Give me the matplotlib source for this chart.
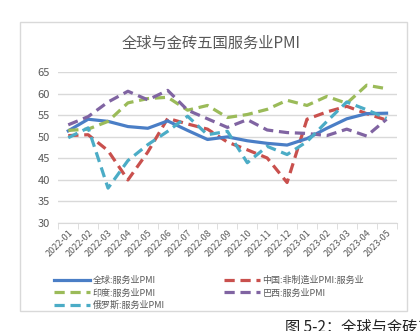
import numpy as np
import matplotlib
matplotlib.use("Agg")
import matplotlib.pyplot as plt
from matplotlib.patches import Rectangle
from matplotlib.lines import Line2D

plt.rcParams['font.family'] = ['Noto Sans CJK SC', 'DejaVu Sans']

months = ['2022-01', '2022-02', '2022-03', '2022-04', '2022-05', '2022-06',
          '2022-07', '2022-08', '2022-09', '2022-10', '2022-11', '2022-12',
          '2023-01', '2023-02', '2023-03', '2023-04', '2023-05']
global_pmi = [51.4, 54.1, 53.6, 52.4, 52.0, 53.7, 51.5, 49.4, 50.0, 49.1, 48.5, 48.1, 49.6, 52.0, 54.2, 55.4, 55.5]
china_pmi = [50.3, 50.5, 46.8, 40.0, 46.5, 54.3, 53.0, 51.8, 48.8, 47.0, 45.1, 39.4, 54.1, 55.8, 57.1, 55.4, 53.9]
india_pmi = [51.5, 51.8, 53.6, 57.9, 58.9, 59.2, 56.2, 57.3, 54.5, 55.2, 56.4, 58.5, 57.3, 59.4, 57.8, 62.0, 61.2]
brazil_pmi = [52.8, 54.7, 58.1, 60.6, 58.6, 60.8, 56.2, 54.2, 52.2, 54.0, 51.6, 51.0, 50.8, 50.3, 51.8, 50.2, 54.1]
russia_pmi = [49.8, 52.1, 38.1, 44.5, 48.2, 51.3, 54.8, 50.5, 51.3, 44.0, 47.8, 45.9, 48.9, 53.6, 58.1, 56.3, 54.3]

labels = ['全球:服务业PMI', '中国:非制造业PMI:服务业', '印度:服务业PMI', '巴西:服务业PMI', '俄罗斯:服务业PMI']
colors = ['#4a7ec6', '#c9504d', '#9bbb59', '#8064a2', '#4bacc6']

fig = plt.figure(figsize=(4.2, 3.31), dpi=100)
fig.patches.append(Rectangle((20/420, 1-311/331), 387/420, 289/331, transform=fig.transFigure,
                             fill=False, edgecolor='#d9d9d9', lw=1))

ax = fig.add_axes([58.3/420, 1-223/331, 338.2/420, 150.7/331])
x = np.arange(len(months))
series = [global_pmi, china_pmi, india_pmi, brazil_pmi, russia_pmi]
lines = []
for i, (s, c, lab) in enumerate(zip(series, colors, labels)):
    if i == 0:
        ln, = ax.plot(x, s, color=c, lw=2.3, label=lab, zorder=5)
    else:
        ln, = ax.plot(x, s, color=c, lw=2.3, label=lab, dashes=(3.2, 1.8), zorder=3+i)
    lines.append(ln)

ax.set_xlim(-0.5, len(months)-0.5)
ax.set_ylim(30, 65)
ax.set_yticks(range(30, 66, 5))
ax.yaxis.grid(True, color='#d9d9d9', lw=1)
ax.set_axisbelow(True)
for sp in ['top', 'right', 'left']:
    ax.spines[sp].set_visible(False)
ax.spines['bottom'].set_color('#d9d9d9')
ax.tick_params(axis='y', length=0, pad=6, labelsize=8, labelcolor='#595959')
ax.set_xticks(x)
ax.set_xticklabels(months, rotation=45, ha='right', rotation_mode='anchor', fontsize=6.5, color='#595959')
ax.tick_params(axis='x', which='major', length=0, pad=4)
ax.set_xticks(np.arange(-0.5, len(months), 1), minor=True)
ax.tick_params(axis='x', which='minor', length=4, color='#d9d9d9')

fig.text(211/420, 1-43/331, '全球与金砖五国服务业PMI', ha='center', va='center', fontsize=11, color='#595959')

order = [0, 2, 4, 1, 3]
fig.legend([lines[i] for i in order], [labels[i] for i in order], ncol=2,
           loc='upper left', bbox_to_anchor=(46/420, 1-268/331), frameon=False,
           fontsize=6.5, handlelength=4, handletextpad=0.3, columnspacing=6.5,
           labelspacing=0.35, labelcolor='#595959')

fig.text(285/420, 1-319/331, '图 5-2：全球与金砖五国服务业PMI', ha='left', va='top', fontsize=11, color='#222222')

fig.savefig('out.png', dpi=100)
